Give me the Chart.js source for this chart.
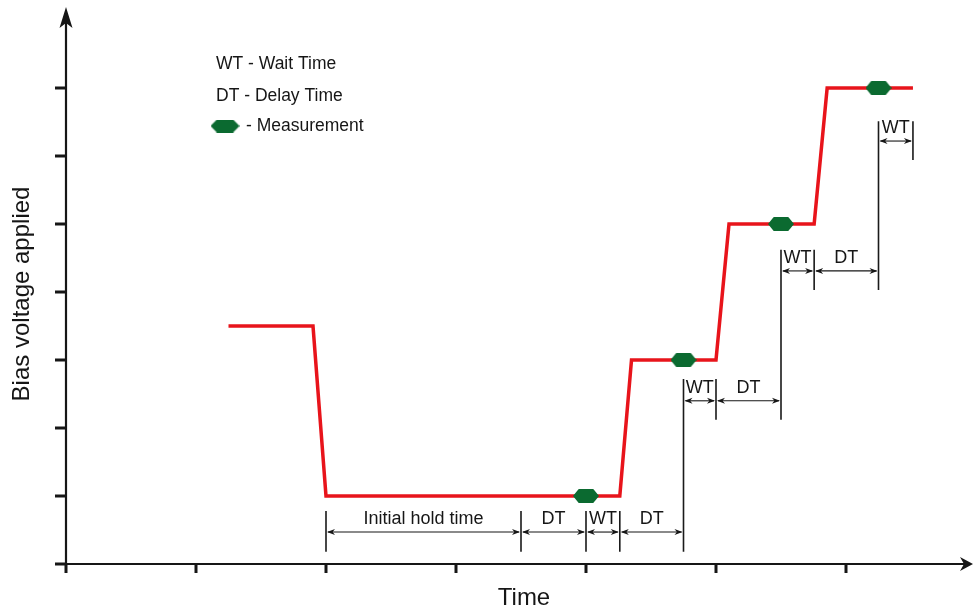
<!DOCTYPE html>
<html>
<head>
<meta charset="utf-8">
<title>Bias voltage applied vs Time</title>
<script src="https://cdn.jsdelivr.net/npm/chart.js@4/dist/chart.umd.min.js"></script>
<style>
  html, body { margin: 0; padding: 0; background: #ffffff; }
  #wrap { width: 974px; height: 612px; position: relative; }
</style>
</head>
<body>
<div id="wrap"><canvas id="chart"></canvas></div>
<script>
// Bias step profile (time in arbitrary units, voltage level in arbitrary units)
const holdTimes  = [1.25, 1.9, 2.0, 4.26, 4.35, 5.0, 5.1, 5.755, 5.855, 6.515];
const biasLevels = [3.5, 3.5, 1, 1, 3, 3, 5, 5, 7, 7];

// Measurement instants on each plateau
const measureTimes  = [4.0, 4.75, 5.5, 6.25];
const measureLevels = [1, 3, 5, 7];

// Timing spans shown as dimension arrows
const spanLabels = ['Initial hold time', 'DT', 'WT', 'DT', 'WT', 'DT', 'WT', 'DT', 'WT'];
const spanFrom   = [2.0, 3.5, 4.0, 4.26, 4.75, 5.0, 5.5, 5.755, 6.25];
const spanTo     = [3.5, 4.0, 4.26, 4.75, 5.0, 5.5, 5.755, 6.25, 6.515];
const spanRow    = [0.47, 0.47, 0.47, 0.47, 2.40, 2.40, 4.31, 4.31, 6.22];

// Vertical extension lines bounding the spans
const markX    = [2.0, 3.5, 4.0, 4.26, 4.75, 5.0, 5.5, 5.755, 6.25, 6.515];
const markLow  = [0.18, 0.18, 0.18, 0.18, 0.18, 2.12, 2.12, 4.03, 4.03, 5.94];
const markHigh = [0.78, 0.78, 0.78, 0.78, 2.72, 2.72, 4.62, 4.62, 6.51, 6.51];

// Axis tick positions (unlabelled)
const xTicks = [0, 1, 2, 3, 4, 5, 6];
const yTicks = [0, 1, 2, 3, 4, 5, 6, 7];

// Legend entries
const legendLines = ['WT - Wait Time', 'DT - Delay Time', '- Measurement'];

const RED = '#e8141b';
const GREEN = '#0b6a30';
const INK = '#161616';
const FONT = '"Liberation Sans", Arial, Helvetica, sans-serif';

// Hexagonal measurement marker
function makeHexagon(w, h) {
  const c = document.createElement('canvas');
  c.width = w; c.height = h;
  const g = c.getContext('2d');
  const inset = w * 0.22;
  g.fillStyle = GREEN;
  g.beginPath();
  g.moveTo(0, h / 2);
  g.lineTo(inset, 0);
  g.lineTo(w - inset, 0);
  g.lineTo(w, h / 2);
  g.lineTo(w - inset, h);
  g.lineTo(inset, h);
  g.closePath();
  g.fill();
  return c;
}
const hexMarker = makeHexagon(26, 14);
const hexLegend = makeHexagon(29, 13);

const stepData = holdTimes.map((t, i) => ({ x: t, y: biasLevels[i] }));
const measureData = measureTimes.map((t, i) => ({ x: t, y: measureLevels[i] }));
const markData = [];
markX.forEach((x, i) => {
  markData.push({ x: x, y: markLow[i] });
  markData.push({ x: x, y: markHigh[i] });
  markData.push({ x: x, y: null });
});

function arrowHead(ctx, x, y, dir, len, half) {
  ctx.beginPath();
  ctx.moveTo(x, y);
  ctx.lineTo(x - dir * len, y - half);
  ctx.lineTo(x - dir * len * 0.7, y);
  ctx.lineTo(x - dir * len, y + half);
  ctx.closePath();
  ctx.fill();
}

const schematic = {
  id: 'schematic',
  beforeDatasetsDraw(chart) {
    const { ctx, chartArea: a, scales: { x, y } } = chart;
    const x0 = x.getPixelForValue(0);
    const y0 = y.getPixelForValue(0);
    ctx.save();
    ctx.strokeStyle = INK;
    ctx.fillStyle = INK;
    // axis lines
    ctx.lineWidth = 2.2;
    ctx.beginPath();
    ctx.moveTo(x0, y0);
    ctx.lineTo(x0, a.top + 14);
    ctx.moveTo(x0 - 11, y0);
    ctx.lineTo(a.right - 8, y0);
    ctx.stroke();
    // arrow tips
    ctx.beginPath();
    ctx.moveTo(x0, a.top - 1);
    ctx.lineTo(x0 - 6.5, a.top + 20);
    ctx.lineTo(x0, a.top + 15);
    ctx.lineTo(x0 + 6.5, a.top + 20);
    ctx.closePath();
    ctx.fill();
    ctx.beginPath();
    ctx.moveTo(a.right + 1, y0);
    ctx.lineTo(a.right - 12, y0 - 7);
    ctx.lineTo(a.right - 8, y0);
    ctx.lineTo(a.right - 12, y0 + 7);
    ctx.closePath();
    ctx.fill();
    // ticks
    ctx.lineWidth = 3;
    ctx.beginPath();
    yTicks.forEach(v => {
      const py = y.getPixelForValue(v);
      ctx.moveTo(x0 - 11, py);
      ctx.lineTo(x0, py);
    });
    xTicks.forEach(v => {
      const px = x.getPixelForValue(v);
      ctx.moveTo(px, y0);
      ctx.lineTo(px, y0 + 9);
    });
    ctx.stroke();

    // axis titles
    ctx.font = '24px ' + FONT;
    ctx.textAlign = 'center';
    ctx.textBaseline = 'middle';
    ctx.fillText('Time', 524, 598);
    ctx.save();
    ctx.translate(22, 294);
    ctx.rotate(-Math.PI / 2);
    ctx.fillText('Bias voltage applied', 0, 0);
    ctx.restore();

    // legend
    ctx.font = '17.5px ' + FONT;
    ctx.textAlign = 'left';
    ctx.fillText(legendLines[0], 216, 64);
    ctx.fillText(legendLines[1], 216, 96);
    ctx.drawImage(hexLegend, 210.5, 119.5);
    ctx.fillText(legendLines[2], 246, 126);
    ctx.restore();
  },
  afterDatasetsDraw(chart) {
    const { ctx, scales: { x, y } } = chart;
    ctx.save();
    ctx.strokeStyle = INK;
    ctx.fillStyle = INK;
    ctx.lineWidth = 1.1;
    ctx.font = '18px ' + FONT;
    ctx.textAlign = 'center';
    ctx.textBaseline = 'middle';
    spanLabels.forEach((label, i) => {
      const x1 = x.getPixelForValue(spanFrom[i]);
      const x2 = x.getPixelForValue(spanTo[i]);
      const py = y.getPixelForValue(spanRow[i]);
      ctx.beginPath();
      ctx.moveTo(x1 + 2, py);
      ctx.lineTo(x2 - 2, py);
      ctx.stroke();
      arrowHead(ctx, x1 + 1, py, -1, 8, 3);
      arrowHead(ctx, x2 - 1, py, 1, 8, 3);
      ctx.fillText(label, (x1 + x2) / 2, py - 13);
    });
    ctx.restore();
  }
};

new Chart(document.getElementById('chart'), {
  type: 'line',
  data: {
    datasets: [
      {
        label: 'Measurement',
        data: measureData,
        showLine: false,
        pointStyle: hexMarker,
        pointRadius: 7,
        order: 0
      },
      {
        label: 'Bias',
        data: stepData,
        borderColor: RED,
        borderWidth: 3.5,
        borderJoinStyle: 'miter',
        pointRadius: 0,
        tension: 0,
        fill: false,
        order: 1
      },
      {
        label: 'Extension',
        data: markData,
        borderColor: '#1a1a1a',
        borderWidth: 1.6,
        pointRadius: 0,
        spanGaps: false,
        tension: 0,
        fill: false,
        order: 2
      }
    ]
  },
  options: {
    responsive: true,
    maintainAspectRatio: false,
    animation: false,
    events: [],
    layout: { autoPadding: false, padding: { left: 66, right: 2, top: 8, bottom: 48 } },
    scales: {
      x: { type: 'linear', min: 0, max: 906 / 130, display: false },
      y: { type: 'linear', min: 0, max: 556 / 68, display: false }
    },
    plugins: {
      legend: { display: false },
      tooltip: { enabled: false }
    }
  },
  plugins: [schematic]
});
</script>
</body>
</html>
